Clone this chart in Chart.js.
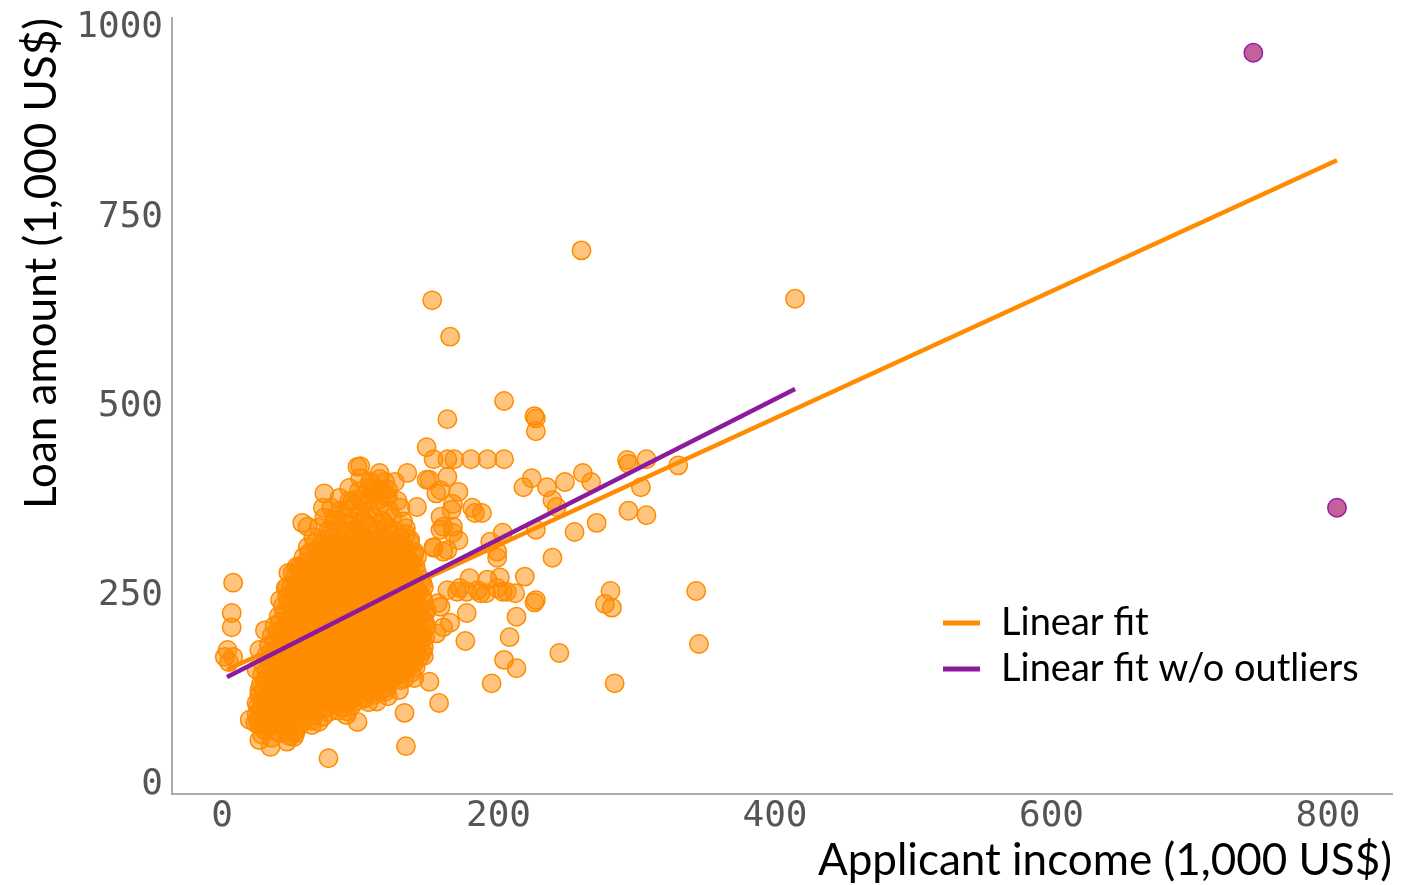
<!DOCTYPE html>
<html>
<head>
<meta charset="utf-8">
<title>Loan amount vs applicant income</title>
<style>
  html, body { margin: 0; padding: 0; background: #ffffff; }
  #wrap { width: 1401px; height: 885px; position: relative; }
</style>
<script src="https://cdn.jsdelivr.net/npm/chart.js@4/dist/chart.umd.min.js"></script>
</head>
<body>
<div id="wrap"><canvas id="chart" width="1401" height="885"></canvas></div>
<script>
// Axis ticks and ranges (1,000 US$)
const xTicks = [0, 200, 400, 600, 800];
const yTicks = [0, 250, 500, 750, 1000];
const xRange = [-36.2, 846.3];
const yRange = [-17.2, 1008];

// Applicants: [income, loan amount], dense core of the sample
const coreApplicants = [
  [29,61],[36,57],[42,63],[49,59],
  [27,74],[33,71],[40,76],[47,70],[56,73],
  [25,88],[31,84],[38,87],[45,85],[52,89],[59,84],[66,87],[73,85],
  [26,99],[33,97],[39,102],[46,96],[54,100],[60,98],[67,103],[75,96],[81,101],[88,97],[94,100],
  [27,114],[34,110],[40,113],[48,109],[55,112],[61,116],[69,110],[76,114],[82,109],[90,113],[97,111],[103,109],[110,114],
  [28,127],[35,123],[41,126],[49,122],[56,126],[63,129],[70,123],[77,125],[84,122],[91,128],[98,124],[105,121],[112,127],[119,123],
  [29,140],[36,136],[43,139],[50,135],[57,137],[64,142],[71,136],[78,140],[85,135],[92,139],[99,137],[106,134],[113,140],[120,136],[126,139],[132,135],
  [30,153],[37,149],[44,152],[51,148],[58,150],[65,155],[72,149],[79,153],[86,148],[93,152],[100,150],[107,147],[114,153],[121,149],[128,152],[134,148],[140,150],
  [32,166],[39,162],[46,165],[53,161],[60,163],[67,168],[74,162],[81,166],[88,161],[95,165],[102,163],[109,160],[116,166],[123,162],[130,165],[137,161],[143,164],
  [34,179],[41,175],[48,178],[55,174],[62,176],[69,181],[76,175],[83,179],[90,174],[97,178],[104,176],[111,173],[118,179],[125,175],[132,178],[139,174],[146,177],
  [36,192],[43,188],[50,191],[57,187],[64,189],[71,194],[78,188],[85,192],[92,187],[99,191],[106,189],[113,186],[120,192],[127,188],[134,191],[141,187],[147,190],
  [38,205],[45,201],[52,204],[59,200],[66,202],[73,207],[80,201],[87,205],[94,200],[101,204],[108,202],[115,199],[122,205],[129,201],[136,204],[143,200],[148,203],
  [41,218],[48,214],[55,217],[62,213],[69,215],[76,220],[83,214],[90,218],[97,213],[104,217],[111,215],[118,212],[125,218],[132,214],[139,217],[146,213],
  [44,231],[51,227],[58,230],[65,226],[72,228],[79,233],[86,227],[93,231],[100,226],[107,230],[114,228],[121,225],[128,231],[135,227],[142,230],[148,226],
  [47,244],[54,240],[61,243],[68,239],[75,241],[82,246],[89,240],[96,244],[103,239],[110,243],[117,241],[124,238],[131,244],[138,240],[145,243],
  [50,257],[57,253],[64,256],[71,252],[78,254],[85,259],[92,253],[99,257],[106,252],[113,256],[120,254],[127,251],[134,257],[141,253],[146,256],
  [53,270],[60,266],[67,269],[74,265],[81,267],[88,272],[95,266],[102,270],[109,265],[116,269],[123,267],[130,264],[137,270],[144,266],
  [56,283],[63,279],[70,282],[77,278],[84,280],[91,285],[98,279],[105,283],[112,278],[119,282],[126,280],[133,277],[140,283],
  [59,296],[66,292],[73,295],[80,291],[87,293],[94,298],[101,292],[108,296],[115,291],[122,295],[129,293],[136,290],[141,296],
  [62,309],[69,305],[76,308],[83,304],[90,306],[97,311],[104,305],[111,309],[118,304],[125,308],[132,306],[139,303],
  [66,322],[73,318],[80,321],[87,317],[94,319],[101,324],[108,318],[115,322],[122,317],[129,321],[136,319],
  [70,335],[77,331],[84,334],[91,330],[98,332],[105,337],[112,331],[119,335],[126,330],[133,334],
  [74,348],[81,344],[88,347],[95,343],[102,345],[109,350],[116,344],[123,348],[131,343],
  [79,361],[86,357],[93,360],[100,356],[107,358],[114,363],[121,357],[129,361],
  [85,374],[92,370],[99,373],[106,369],[113,371],[120,376],[127,370],
  [92,387],[99,383],[106,386],[113,382],[120,385],
  [100,400],[107,396],[114,399],[118,395]
];

// Applicants: [income, loan amount], second pass through the core
const coreApplicantsB = [
  [31,67],[38,66],[45,68],[52,65],
  [26,80],[30,79],[37,81],[44,78],[51,82],[58,79],[65,80],[70,78],
  [28,93],[35,92],[42,94],[49,91],[56,95],[63,92],[70,94],[77,91],[84,93],[91,92],
  [29,106],[36,105],[43,107],[50,104],[57,108],[64,105],[71,107],[78,104],[85,106],[92,105],[99,107],[106,104],
  [30,119],[37,118],[44,120],[51,117],[58,121],[65,118],[72,120],[79,117],[86,119],[93,118],[100,120],[107,117],[114,119],[118,118],
  [31,132],[38,131],[45,133],[52,130],[59,134],[66,131],[73,133],[80,130],[87,132],[94,131],[101,133],[108,130],[115,132],[122,131],[129,133],
  [32,145],[39,144],[46,146],[53,143],[60,147],[67,144],[74,146],[81,143],[88,145],[95,144],[102,146],[109,143],[116,145],[123,144],[130,146],[137,143],
  [34,158],[41,157],[48,159],[55,156],[62,160],[69,157],[76,159],[83,156],[90,158],[97,157],[104,159],[111,156],[118,158],[125,157],[132,159],[139,156],
  [36,171],[43,170],[50,172],[57,169],[64,173],[71,170],[78,172],[85,169],[92,171],[99,170],[106,172],[113,169],[120,171],[127,170],[134,172],[141,169],[145,171],
  [38,184],[45,183],[52,185],[59,182],[66,186],[73,183],[80,185],[87,182],[94,184],[101,183],[108,185],[115,182],[122,184],[129,183],[136,185],[143,182],
  [40,197],[47,196],[54,198],[61,195],[68,199],[75,196],[82,198],[89,195],[96,197],[103,196],[110,198],[117,195],[124,197],[131,196],[138,198],[145,195],
  [42,210],[49,209],[56,211],[63,208],[70,212],[77,209],[84,211],[91,208],[98,210],[105,209],[112,211],[119,208],[126,210],[133,209],[140,211],[147,208],
  [45,223],[52,222],[59,224],[66,221],[73,225],[80,222],[87,224],[94,221],[101,223],[108,222],[115,224],[122,221],[129,223],[136,222],[143,224],
  [48,236],[55,235],[62,237],[69,234],[76,238],[83,235],[90,237],[97,234],[104,236],[111,235],[118,237],[125,234],[132,236],[139,235],[146,237],
  [51,249],[58,248],[65,250],[72,247],[79,251],[86,248],[93,250],[100,247],[107,249],[114,248],[121,250],[128,247],[135,249],[142,248],
  [54,262],[61,261],[68,263],[75,260],[82,264],[89,261],[96,263],[103,260],[110,262],[117,261],[124,263],[131,260],[138,262],[145,261],
  [57,275],[64,274],[71,276],[78,273],[85,277],[92,274],[99,276],[106,273],[113,275],[120,274],[127,276],[134,273],[141,275],
  [60,288],[67,287],[74,289],[81,286],[88,290],[95,287],[102,289],[109,286],[116,288],[123,287],[130,289],[137,286],
  [63,301],[70,300],[77,302],[84,299],[91,303],[98,300],[105,302],[112,299],[119,301],[126,300],[133,302],[139,299],
  [67,314],[74,313],[81,315],[88,312],[95,316],[102,313],[109,315],[116,312],[123,314],[130,313],[136,315],
  [78,326],[92,325],[106,326],[120,325],[133,326],
  [89,341],[103,342],[117,341]
];

// Applicants: [income, loan amount], the spread around the core
const spreadApplicants = [
  [8,262],[7,222],[7,203],[4,173],[2,164],[8,164],[5,157],
  [152,635],[165,587],[260,701],[414.5,637],[163,478],[204,502],[226,482],[227,479],[227,462],
  [148,441],[153,425],[163,425],[168,425],[180,425],[192,425],[204,425],
  [134,407],[150,398],[163,402],[158,384],[171,382],[167,366],[166,358],[181,361],[188,354],[183,354],
  [158,332],[167,336],[171,318],[160,303],[153,308],[194,316],[199,303],[199,295],[203,328],
  [218,388],[224,400],[235,388],[239,371],[242,362],[248,395],[261,407],[267,395],
  [227,332],[255,329],[239,295],[271,341],
  [293,424],[307,425],[294,419],[303,388],[294,357],[307,351],[330,417],
  [219,270],[227,239],[213,217],[208,190],[204,160],[213,149],[195,129],[244,169],
  [281,251],[277,234],[282,229],[343,251],[345,181],[284,129],
  [177,222],[176,185],[146,165],[150,131],[157,103],[132,90],[133,46],[139,136],[125,140],
  [172,255],[179,268],[185,252],[192,266],[201,269],[203,250],[212,248],[191,248],[177,250],
  [158,230],[160,203],[155,195],[147,222],[165,209],[156,235],[145,190],[163,252],[170,250],[187,248],[199,255],[206,250],[226,236],
  [24,77],[27,54],[35,45],[47,52],[53,63],[65,74],[77,30],[83,100],[90,87],[98,78],[20,81],[52,58],
  [31,199],[27,173],[25,147],[27,120],[25,103],
  [46,255],[51,275],[56,283],[42,239],[48,275],[54,283],[47,256],[58,341],[62,336],
  [74,380],[73,361],[82,349],[94,369],[102,369],[100,416],[98,415],[108,394],[114,407],[119,375],[125,395],
  [141,362],[148,398],[155,380],[158,349],[160,336],[167,328],[153,309],[163,305],[116,384],[109,384],
  [120,112],[128,120],[112,105]
];

// High-income outliers
const outlierApplicants = [[746,962],[806.5,361]];

// Fitted lines (end points over each fit's income range)
const fitAll = [[3.6,147],[806.5,820]];
const fitNoOutliers = [[3.6,137.4],[414.5,518]];

const toXY = pts => pts.map(p => ({ x: p[0], y: p[1] }));

const ORANGE = '#FF8C00';
const PURPLE = '#8B1A9C';
const TICK_FONT = { family: "'DejaVu Sans Mono', monospace", size: 36, lineHeight: 1 };
const TITLE_FONT = { family: "Lato, 'Liberation Sans', sans-serif", size: 44, lineHeight: 1 };
const LEGEND_FONT = "38px Lato, 'Liberation Sans', sans-serif";

// Legend for the two fit lines, drawn inside the plot at bottom right
const fitLegend = {
  id: 'fitLegend',
  afterDraw(chart) {
    const { ctx, chartArea } = chart;
    const items = chart.data.datasets.filter(d => d.inLegend)
      .sort((a, b) => a.legendRank - b.legendRank);
    const x0 = chartArea.right - 449;
    const y0 = chartArea.bottom - 171;
    ctx.save();
    ctx.font = LEGEND_FONT;
    ctx.textBaseline = 'middle';
    ctx.textAlign = 'left';
    items.forEach((d, i) => {
      const y = y0 + i * 46;
      ctx.strokeStyle = d.borderColor;
      ctx.lineWidth = 5;
      ctx.lineCap = 'butt';
      ctx.beginPath();
      ctx.moveTo(x0, y);
      ctx.lineTo(x0 + 37, y);
      ctx.stroke();
      ctx.fillStyle = '#000000';
      ctx.fillText(d.label, x0 + 58, y);
    });
    ctx.restore();
  }
};

const axisBorder = { display: true, color: '#aaaaaa', width: 2 };

new Chart(document.getElementById('chart'), {
  type: 'scatter',
  data: {
    datasets: [
      {
        type: 'line', label: 'Linear fit w/o outliers', data: toXY(fitNoOutliers),
        borderColor: PURPLE, borderWidth: 4.5, pointRadius: 0, fill: false,
        order: 0, inLegend: true, legendRank: 1
      },
      {
        type: 'line', label: 'Linear fit', data: toXY(fitAll),
        borderColor: ORANGE, borderWidth: 4.5, pointRadius: 0, fill: false,
        order: 1, inLegend: true, legendRank: 0
      },
      {
        label: 'Outliers', data: toXY(outlierApplicants),
        backgroundColor: 'rgb(194,98,152)', borderColor: 'rgb(150,30,168)',
        borderWidth: 1.5, pointRadius: 9.2, order: 2
      },
      {
        label: 'Applicants', data: toXY(coreApplicants.concat(coreApplicantsB, spreadApplicants)),
        backgroundColor: 'rgba(255,140,0,0.5)', borderColor: ORANGE,
        borderWidth: 1.5, pointRadius: 9.2, order: 3
      }
    ]
  },
  options: {
    responsive: false,
    animation: false,
    devicePixelRatio: 1,
    layout: { autoPadding: false, padding: { top: 18, right: 9, bottom: 0, left: 0 } },
    plugins: { legend: { display: false }, tooltip: { enabled: false } },
    scales: {
      x: {
        type: 'linear', min: xRange[0], max: xRange[1],
        afterBuildTicks: s => { s.ticks = xTicks.map(v => ({ value: v })); },
        afterFit: s => { s.height = 91; s.paddingLeft = 0; s.paddingRight = 0; },
        grid: { display: false, drawTicks: false },
        border: axisBorder,
        ticks: { font: TICK_FONT, color: '#555555', padding: 5, maxRotation: 0, callback: v => String(v) },
        title: {
          display: true, text: 'Applicant income (1,000 US$)', align: 'end',
          color: '#000000', font: TITLE_FONT, padding: { top: 0, bottom: 2 }
        }
      },
      y: {
        type: 'linear', min: yRange[0], max: yRange[1],
        afterBuildTicks: s => { s.ticks = yTicks.map(v => ({ value: v })); },
        afterFit: s => { s.width = 172; s.paddingTop = 0; s.paddingBottom = 0; },
        grid: { display: false, drawTicks: false },
        border: axisBorder,
        ticks: { font: TICK_FONT, color: '#555555', padding: 9, labelOffset: 4, callback: v => String(v) },
        title: {
          display: true, text: 'Loan amount (1,000 US$)', align: 'end',
          color: '#000000', font: TITLE_FONT, padding: { top: 20, bottom: 0 }
        }
      }
    }
  },
  plugins: [fitLegend]
});
</script>
</body>
</html>
